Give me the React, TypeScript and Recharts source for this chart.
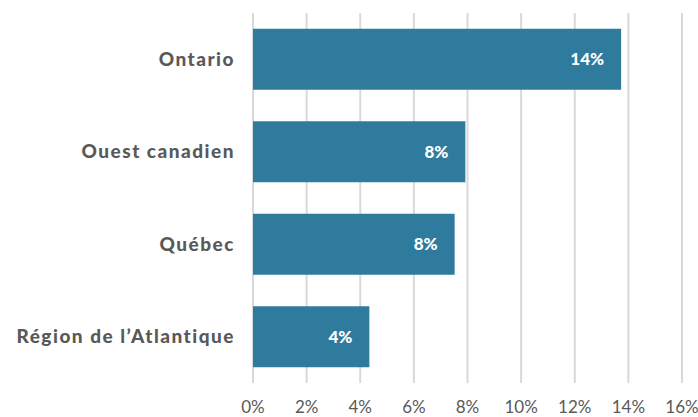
import React from "react";
import { Bar, BarChart, CartesianGrid, LabelList, XAxis, YAxis } from "recharts";

const regions = ["Ontario", "Ouest canadien", "Québec", "Région de l’Atlantique"];
const shares = [13.73, 7.92, 7.52, 4.34];
const xTicks = [0, 2, 4, 6, 8, 10, 12, 14, 16];

const data = regions.map((name, i) => ({ name, value: shares[i] }));

const FONT = "Lato, 'Open Sans', sans-serif";

const App = () => {
  return (
    <div style={{ position: "absolute", left: 0, top: 0, fontFamily: FONT }}>
      <BarChart
        width={698}
        height={417}
        layout="vertical"
        data={data}
        margin={{ top: 13, right: 16, bottom: 0, left: 0 }}
        barCategoryGap="17%"
      >
        <CartesianGrid horizontal={false} stroke="#d9d9d9" strokeWidth={2} />
        <XAxis
          type="number"
          domain={[0, 16]}
          ticks={xTicks}
          tickFormatter={(v) => `${v}%`}
          axisLine={false}
          tickLine={false}
          tickSize={0}
          tickMargin={18}
          height={34}
          interval={0}
          tick={{ fill: "#595959", fontSize: 17, fontFamily: FONT }}
        />
        <YAxis
          type="category"
          dataKey="name"
          width={253}
          axisLine={false}
          tickLine={false}
          tickSize={0}
          tickMargin={18}
          tick={{
            fill: "#595959",
            fontSize: 19,
            fontWeight: 900,
            letterSpacing: 1.5,
            fontFamily: FONT,
          }}
        />
        <Bar dataKey="value" fill="#2e7b9e" isAnimationActive={false}>
          <LabelList
            dataKey="value"
            position="insideRight"
            offset={17}
            formatter={(v: number) => `${Math.round(v)}%`}
            style={{ fill: "#ffffff", fontSize: 17, fontWeight: 900, fontFamily: FONT }}
          />
        </Bar>
      </BarChart>
    </div>
  );
};

export default App;
